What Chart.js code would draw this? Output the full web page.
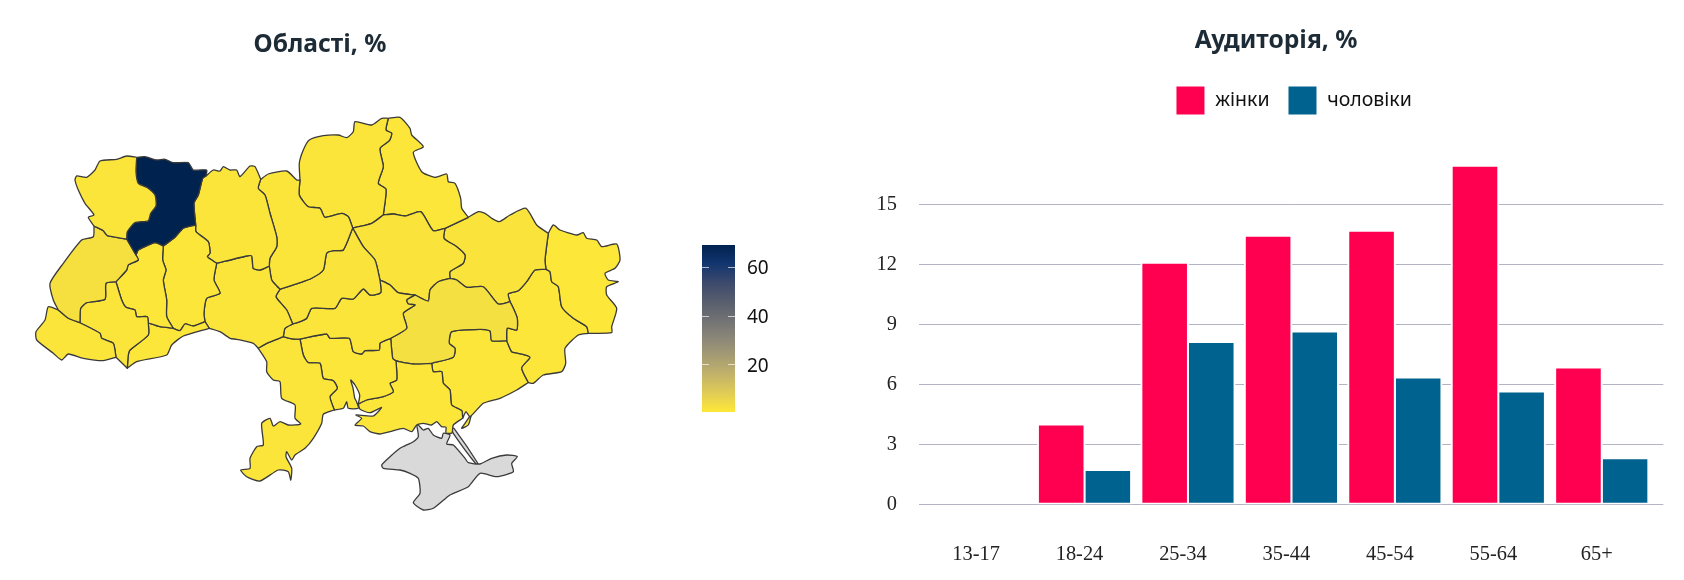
<!DOCTYPE html>
<html lang="uk">
<head>
<meta charset="utf-8">
<title>Області та аудиторія</title>
<script src="https://cdn.jsdelivr.net/npm/chart.js@4/dist/chart.umd.min.js"></script>
<style>
  body { margin: 0; background: #fff; }
  canvas { position: absolute; }
</style>
</head>
<body>
<canvas id="mapChart" width="640" height="580" style="left:0;top:0"></canvas>
<canvas id="scaleChart" width="90" height="180" style="left:702px;top:240px"></canvas>
<canvas id="barChart" width="816" height="580" style="left:868px;top:0"></canvas>
<script>
// Стовпчики
const ageGroups = ['13-17', '18-24', '25-34', '35-44', '45-54', '55-64', '65+'];
const women = [0, 4.0, 12.1, 13.45, 13.7, 16.95, 6.85];
const men = [0, 1.72, 8.12, 8.65, 6.35, 5.65, 2.3];
const valueTicks = [0, 3, 6, 9, 12, 15];

// Мапа: значення областей
const regionNames = ['Волинська', 'Рівненська', 'Львівська', 'Закарпатська', 'Івано-Франківська', 'Тернопільська', 'Чернівецька',
  'Хмельницька', 'Житомирська', 'Вінницька', 'Київська', 'Черкаська', 'Кіровоградська', 'Одеська', 'Миколаївська', 'Херсонська',
  'Дніпропетровська', 'Полтавська', 'Чернігівська', 'Сумська', 'Харківська', 'Луганська', 'Донецька', 'Запорізька',
  'м. Київ', 'АР Крим', 'Арабатська стрілка', 'Бердянська коса'];
const regionValues = [1.2, 69.3, 2.6, 1.2, 1.2, 1, 1, 1, 1.2, 1.3, 1.4, 1.5, 1.2, 1.2, 1, 1, 2.8, 1.5, 1.3, 1, 1.6, 0.7, 1, 1,
  1.4, null, null, 1];
const colorTicks = [20, 40, 60];
const colorMin = 0.5;
const colorMax = 69.3;
const cividis = ['#fee838', '#e1cc55', '#c3b369', '#a59c74', '#8a8678', '#707173', '#575d6d', '#3b496c', '#123570', '#00224e'];

// Контури: спільні ділянки кордонів, обведені з картинки
const arcs = {
  volN: [[136.7,157.3],[126.7,156],[116.7,159.3],[100,161],[95,170],[86.7,177.3],[76.7,176],[75,180],[78.3,190],[85,203.3],[94,215],[88.3,217.3],[94,226]],
  volLv: [[94,226],[103.3,230.7],[107.3,235.7],[126.7,239]],
  volRv: [[126.7,239],[127.3,231.7],[135,222.7],[148.3,220.7],[150.7,213.3],[156,206],[155,195],[146.7,187.3],[138.3,183.3],[136,171.7],[136.7,157.3]],
  rvN: [[136.7,157.3],[145,156.7],[156.7,160],[165,159.3],[173.3,162.7],[188.3,162.7],[193.3,170],[206.7,170],[206,176]],
  rvZh: [[206,176],[202.7,178.3],[198.3,195],[194,203.3],[195.7,225]],
  rvKh: [[195.7,225],[183.3,228.3],[175,237.3],[163.3,246]],
  rvTe: [[163.3,246],[155,242.7],[138.3,250],[136,255]],
  rvLv: [[136,255],[126.7,239]],
  lvW: [[94,226],[93.3,236.7],[81.7,240],[63.3,263.3],[50,283.3],[53.3,300],[58.3,310]],
  lvZk: [[58.3,310],[68.3,318.3],[80,322.7]],
  lvIf: [[80,322.7],[80.7,308.3],[86.7,302.7],[105,299.3],[106,283.3],[116,281.7]],
  lvTe: [[116,281.7],[126.7,270],[128.3,265],[138.3,260],[136,255]],
  zkOut: [[58.3,310],[48.3,306.7],[45,320],[36,331.7],[36.7,340],[53.3,353.3],[61.7,360],[68.3,354],[83.3,358.3],[103.3,360.7],[116,357.3]],
  zkIf: [[80,322.7],[100,333.3],[101.7,338.3],[113.3,343.3],[116,357.3]],
  ifS: [[116,357.3],[127.3,368.3]],
  ifCh: [[127.3,368.3],[128.3,355],[130,350],[148.3,335],[148.3,323]],
  ifTe: [[116,281.7],[121.7,300],[126,307.3],[135,310],[136.7,316.7],[147.3,316.7],[148.3,323]],
  teCh: [[148.3,323],[160,326.7],[173.3,328.3]],
  teKh: [[163.3,246],[162.7,260],[166,270],[163.3,280],[166.7,300],[166.7,316.7],[173.3,328.3]],
  chKh: [[173.3,328.3],[180,330.7],[185,324],[193.3,326],[205,321.7]],
  chVn: [[205,321.7],[209.3,328.3]],
  chS: [[209.3,328.3],[183.3,336],[171.7,345],[166.7,355],[136.7,361.7],[127.3,368.3]],
  khZh: [[195.7,225],[196,231.7],[208.3,241.7],[210,253.3],[207.3,256.7],[216.7,263.3]],
  khVn: [[216.7,263.3],[214,280],[220,293.3],[206.7,298.3],[204,313.3],[205,321.7]],
  zhN: [[206,176],[213.3,170],[220,171],[223.3,166.7],[230,170],[236.7,170],[240,176.7],[250,166],[255,166.7],[260.7,179.3]],
  zhKy: [[260.7,179.3],[258.3,188.3],[265,195],[270,213.3],[276.7,236.7],[276.7,246.7],[270,258.3],[269.3,266]],
  zhVn: [[269.3,266],[260,270],[253.3,268.3],[251.7,256],[246.7,256],[216.7,263.3]],
  kyN: [[260.7,179.3],[268.3,174],[286.7,171],[296.7,180],[300,180]],
  kyCn: [[300,180],[299.3,195],[308.3,206.7],[320,208.3],[325,217.3],[341.7,213.3],[348.3,216.7],[352.7,228]],
  kyCk: [[352.7,228],[343.3,250],[333.3,250.7],[326.7,253.3],[323.3,270],[311.7,278.3],[300,282.7],[280,289.3]],
  kyVn: [[280,289.3],[276.7,286],[271.7,280],[269.3,266]],
  vnCk: [[280,289.3],[276,296.7],[286.7,310],[292.7,324]],
  vnKr: [[292.7,324],[285,328.3],[283.3,336.7]],
  vnOd: [[283.3,336.7],[266.7,343.3],[258.3,348.3]],
  vnS: [[258.3,348.3],[253.3,343.3],[236.7,339.3],[230,338.3],[220,331.7],[209.3,328.3]],
  ckPl: [[352.7,228],[363.3,246.7],[375,260],[380,280]],
  ckKr: [[380,280],[380.7,292.7],[370,295],[363.3,289],[353.3,299],[341.7,298.3],[335,308.3],[311.7,308.3],[306.7,318.3],[300,321.7],[292.7,324]],
  krPl: [[380,280],[390,285],[398.3,292.7],[415,295]],
  krDn: [[415,295],[406.7,300],[408.3,304],[415,305],[403.3,313.3],[406.7,328.3],[390.7,338.3]],
  krMy: [[390.7,338.3],[380,343.3],[379.3,350],[365,350.7],[361.7,354],[353.3,351.7],[349.3,338.3],[330,338.3],[326.7,334],[300,339]],
  krOd: [[300,339],[293.3,339],[283.3,336.7]],
  odMy: [[300,339],[303.3,355],[308.3,362.7],[320,363.3],[323.3,378.3],[333.3,380.7],[337.3,388.3],[330,396.7],[334.3,410]],
  odOut: [[334.3,410],[323.3,414.3],[321.7,423.3],[313.3,438.3],[305,448.3],[295,455],[291.7,460],[286.7,451.7],[286,456.7],[291.7,468.3],[290.7,480],[288.3,471.7],[278.3,470],[260,481],[246.7,476.7],[240.7,470],[250,468.3],[250,458.3],[256.7,446.7],[263.3,445],[261.7,423.3],[270,418.3],[273.3,426],[280,421.7],[288.3,425],[300.7,424],[295,418.3],[295,405],[281.7,398.3],[280,381.7],[273.3,380],[266.7,371.7],[266.7,361.7],[258.3,348.3]],
  myDn: [[390.7,338.3],[392.7,358.3],[396,361]],
  myKh: [[396,361],[396.7,380],[390,383.3],[393.3,391.7],[383.3,396.7],[366.7,400],[358.3,404]],
  myOut: [[358.3,404],[359.7,395],[355,385],[350.7,380],[353,388],[354.7,398],[356.7,402],[358.3,408.3],[348.3,408.3],[346.7,401.7],[343.3,408.3],[334.3,410]],
  dnKh: [[396,361],[413.3,364],[431.7,363.3]],
  dnZp: [[431.7,363.3],[453.3,357.3],[455,348.3],[449.3,343.3],[451.7,331.7],[480,329.3],[490,331],[491.7,340.7],[506.7,340.7]],
  dnDo: [[506.7,340.7],[507.3,328.3],[516.7,330],[517.3,318.3],[513.3,308.3],[510,301.7]],
  dnKa: [[510,301.7],[498.3,304],[483.3,286.7],[466.7,287.3],[456.7,280],[450,278.3]],
  dnPl: [[450,278.3],[438.3,281.7],[430,290],[428.3,301],[415,295]],
  khOut: [[462.7,418.3],[453.3,425],[452,433],[446,433],[446,427],[441.7,426.7],[436.7,421.7],[431.7,425],[423.3,423.3],[416.7,425],[411.7,431.7],[403.3,428.3],[390,431.7],[380,434],[370,431.7],[363.3,426],[355,425],[361.7,418.3],[356,415],[373.3,416],[381.7,407.3],[370,412.7],[360,409.3],[358.3,404]],
  khZp: [[431.7,363.3],[433.3,371.7],[441.7,371.7],[443.3,383.3],[450,390],[451.7,405],[461.7,410.7],[462.7,418.3]],
  zpDo: [[506.7,340.7],[511.7,351.7],[518.3,353.3],[530,357.3],[521.7,368],[528.3,382.5]],
  zpOut: [[528.3,382.5],[516.7,390],[500,398.3],[483.3,403.3],[470,416.7],[466,411.7],[462.7,418.3]],
  cnOut: [[300,180],[299.3,163.3],[303.3,150],[309.3,140],[323.3,135.7],[338.3,135],[346.7,137.7],[353.3,131.7],[355,121.7],[371.7,125],[381.7,118.3],[388.3,118.3]],
  cnSu: [[388.3,118.3],[386,130],[391.7,133.3],[389.3,140.7],[380,148.3],[383.3,166.7],[378.3,183.3],[386,189.3],[383.3,215]],
  cnPl: [[352.7,228],[371.7,223.3],[383.3,215]],
  plSu: [[383.3,215],[393.3,214],[405,216],[420.7,211.7],[433.3,230.7],[445,228.3]],
  plKa: [[445,228.3],[444,238.3],[456.7,246.7],[465,255],[463.3,263.3],[450,271.7],[450,278.3]],
  suOut: [[388.3,118.3],[400,117.3],[410,128.3],[411.7,135],[423.3,146.7],[413.3,152.3],[421.7,171.7],[435,177.3],[446.7,174],[448.3,181.7],[455,183.3],[460.7,198.3],[461.7,208.3],[468.3,217.3]],
  suKa: [[468.3,217.3],[445,228.3]],
  kaOut: [[468.3,217.3],[478.3,211.7],[485,213.3],[491.7,218.3],[499.3,221.7],[510,215],[526,208.3],[536.7,225],[548.3,233.3]],
  kaLu: [[548.3,233.3],[545,260],[546,269.3]],
  kaDo: [[546,269.3],[535,270],[526.7,281.7],[518.3,290.7],[508.3,294],[510,301.7]],
  luOut: [[548.3,233.3],[553.3,225],[560,230],[576.7,235],[583.3,232.7],[586.7,238.3],[596.7,240],[601.7,246.7],[616.7,244],[620,260],[615,268.3],[605,273.3],[608.3,280],[618.3,281.7],[606.7,286.7],[606.7,295],[616.7,308.3],[611.7,326.7],[611.7,332.7],[588.3,333.3]],
  luDo: [[588.3,333.3],[586.7,326.7],[573.3,318.3],[561.7,306.7],[558.3,286.7],[551.7,281.7],[550,271.7],[546,269.3]],
  doOut: [[588.3,333.3],[578.3,335],[565,348.3],[565.7,363.3],[561.7,371.7],[543.3,375],[533.3,383.3],[528.3,382.5]],
  kyivCity: [[293.3,221.7],[298.3,218.3],[303.3,220.7],[311.7,216.7],[310,225],[306.7,228.3],[305,235],[298.3,228.3],[291.7,224],[293.3,221.7]],
  crimea: [[416.7,425],[418.3,436.7],[413.3,441.7],[400,448.3],[390,456.7],[381.7,465],[383.3,468.3],[400,470],[410,473.3],[418.3,478.3],[420,493.3],[413.3,502.7],[423.3,510],[433.3,508.3],[450,495],[468.3,486.7],[480,473.3],[496.7,476.7],[513.3,471.7],[511.7,463.3],[517.3,456.7],[506.7,455],[491.7,458.3],[480,464],[468.3,462.7],[465,458.3],[453.3,445],[446.7,444],[450,435],[443.3,433.3],[441.7,438.3],[433.3,435],[428.3,428.3],[423.3,430],[418.3,425],[416.7,425]],
  arabat: [[451.7,428.3],[454,428.3],[478.3,464],[476,464],[453.3,433.3],[451.7,428.3]],
  berdiansk: [[471.7,413.3],[468.3,425],[461.7,428.3],[465,423.3],[471.7,413.3]]
};

// Які ділянки складають кожну область (мінус: у зворотному напрямку)
const regionRings = [
  ['volN', 'volLv', 'volRv'],
  ['rvN', 'rvZh', 'rvKh', 'rvTe', 'rvLv', 'volRv'],
  ['lvW', 'lvZk', 'lvIf', 'lvTe', 'rvLv', '-volLv'],
  ['zkOut', '-zkIf', '-lvZk'],
  ['zkIf', 'ifS', 'ifCh', '-ifTe', '-lvIf'],
  ['ifTe', 'teCh', '-teKh', 'rvTe', '-lvTe'],
  ['teCh', 'chKh', 'chVn', 'chS', 'ifCh'],
  ['khZh', 'khVn', '-chKh', '-teKh', '-rvKh'],
  ['zhN', 'zhKy', 'zhVn', '-khZh', '-rvZh'],
  ['-zhVn', '-kyVn', 'vnCk', 'vnKr', 'vnOd', 'vnS', '-chVn', '-khVn'],
  ['kyN', 'kyCn', 'kyCk', 'kyVn', '-zhKy'],
  ['ckPl', 'ckKr', '-vnCk', '-kyCk'],
  ['-ckKr', 'krPl', 'krDn', 'krMy', 'krOd', '-vnKr'],
  ['-krOd', 'odMy', 'odOut', '-vnOd'],
  ['-krMy', 'myDn', 'myKh', 'myOut', '-odMy'],
  ['dnKh', 'khZp', 'khOut', '-myKh'],
  ['-dnPl', '-dnKa', '-dnDo', '-dnZp', '-dnKh', '-myDn', '-krDn'],
  ['cnPl', 'plSu', 'plKa', 'dnPl', '-krPl', '-ckPl'],
  ['cnOut', 'cnSu', '-cnPl', '-kyCn'],
  ['suOut', 'suKa', '-plSu', '-cnSu'],
  ['kaOut', 'kaLu', 'kaDo', 'dnKa', '-plKa', '-suKa'],
  ['luOut', 'luDo', '-kaLu'],
  ['-luDo', 'doOut', '-zpDo', 'dnDo', '-kaDo'],
  ['dnZp', 'zpDo', 'zpOut', '-khZp'],
  ['kyivCity'],
  ['crimea'],
  ['arabat'],
  ['berdiansk']
];

function hexToRgb(hex) {
  return [1, 3, 5].map(i => parseInt(hex.slice(i, i + 2), 16));
}

// Колір області за значенням, по тій самій шкалі, що й на колірній смузі
function valueColor(value) {
  if (value === null) return '#d9d9d9';
  const t = Math.min(1, Math.max(0, (value - colorMin) / (colorMax - colorMin))) * (cividis.length - 1);
  const i = Math.min(cividis.length - 2, Math.floor(t));
  const a = hexToRgb(cividis[i]);
  const b = hexToRgb(cividis[i + 1]);
  const c = a.map((v, k) => Math.round(v + (b[k] - v) * (t - i)));
  return `rgb(${c[0]},${c[1]},${c[2]})`;
}

function ringPoints(ring) {
  const points = [];
  ring.forEach(name => {
    const reversed = name[0] === '-';
    const arc = arcs[reversed ? name.slice(1) : name];
    (reversed ? [...arc].reverse() : arc).forEach(p => points.push({ x: p[0], y: p[1] }));
  });
  return points;
}

const titleColor = '#1d2b36';
const titleFont = { family: '"Noto Sans"', size: 24.6, weight: 'bold' };

new Chart(document.getElementById('mapChart'), {
  type: 'scatter',
  data: {
    datasets: regionNames.map((name, i) => ({
      label: name,
      data: ringPoints(regionRings[i]),
      showLine: true,
      fill: 'shape',
      backgroundColor: valueColor(regionValues[i]),
      borderColor: '#3a3a3a',
      borderWidth: 1.3,
      borderJoinStyle: 'round',
      pointRadius: 0,
      tension: 0.2
    }))
  },
  options: {
    responsive: false,
    animation: false,
    layout: { padding: 0 },
    plugins: {
      legend: { display: false },
      tooltip: { enabled: false },
      title: { display: true, text: 'Області, %', color: titleColor, font: titleFont, padding: { top: 30, bottom: 10.48 } }
    },
    scales: {
      x: { type: 'linear', display: false, min: 0, max: 640 },
      y: { type: 'linear', display: false, reverse: true, min: 70, max: 580 }
    }
  }
});

new Chart(document.getElementById('scaleChart'), {
  type: 'bar',
  data: {
    labels: ['%'],
    datasets: [{
      data: [[colorMin, colorMax]],
      backgroundColor: ctx => {
        const area = ctx.chart.chartArea;
        if (!area) return cividis[0];
        const g = ctx.chart.ctx.createLinearGradient(0, area.bottom, 0, area.top);
        cividis.forEach((c, i) => g.addColorStop(i / (cividis.length - 1), c));
        return g;
      },
      borderSkipped: false,
      barPercentage: 1,
      categoryPercentage: 1
    }]
  },
  options: {
    responsive: false,
    animation: false,
    layout: { padding: { top: 5, bottom: 8 } },
    plugins: { legend: { display: false }, tooltip: { enabled: false } },
    scales: {
      x: { display: false },
      y: {
        position: 'right',
        min: colorMin,
        max: colorMax,
        afterBuildTicks: scale => { scale.ticks = colorTicks.map(value => ({ value })); },
        afterFit: scale => {
          scale.width = 57;
          scale.paddingTop = 0;
          scale.paddingBottom = 0;
        },
        grid: { z: 1, color: 'rgba(255,255,255,0.65)', drawTicks: false },
        border: { display: false, dash: [7, 19] },
        ticks: { color: '#111', font: { family: '"Noto Sans"', size: 19 }, padding: 12, labelOffset: 1.5 }
      }
    }
  }
});

// Заголовок і легенда в оригіналі не по центру полотна
const headerShift = {
  id: 'headerShift',
  afterLayout(chart) {
    chart.titleBlock.left += 10.35;
    chart.titleBlock.right += 10.35;
    chart.legend.left += 28;
    chart.legend.right += 28;
  }
};

new Chart(document.getElementById('barChart'), {
  type: 'bar',
  data: {
    datasets: [
      { label: 'жінки', data: ageGroups.map((_, i) => ({ x: i, y: women[i] })), backgroundColor: '#ff0050' },
      { label: 'чоловіки', data: ageGroups.map((_, i) => ({ x: i, y: men[i] })), backgroundColor: '#00628e' }
    ]
  },
  plugins: [headerShift],
  options: {
    responsive: false,
    animation: false,
    layout: { padding: { right: 20.7 } },
    datasets: {
      bar: {
        barThickness: 46.6,
        borderColor: '#fff',
        borderWidth: 2,
        borderSkipped: false,
        inflateAmount: ctx => (ctx.raw && ctx.raw.y ? 1 : 0)
      }
    },
    plugins: {
      tooltip: { enabled: false },
      title: { display: true, text: 'Аудиторія, %', color: titleColor, font: titleFont, padding: { top: 26.5, bottom: 11.4 } },
      legend: {
        labels: { boxWidth: 30, boxHeight: 30, padding: 18, color: '#111', font: { family: '"Noto Sans"', size: 19.5 } }
      }
    },
    scales: {
      x: {
        type: 'linear',
        offset: false,
        min: -0.6,
        max: 6.595,
        afterBuildTicks: scale => { scale.ticks = ageGroups.map((_, i) => ({ value: i })); },
        afterFit: scale => { scale.height = 75.7; },
        grid: { display: false },
        border: { display: false },
        ticks: {
          callback: v => ageGroups[v],
          autoSkip: false,
          maxRotation: 0,
          labelOffset: -5,
          padding: 30,
          color: '#222',
          font: { family: '"Liberation Serif"', size: 20.4 }
        }
      },
      y: {
        min: 0,
        max: 18.97,
        afterBuildTicks: scale => { scale.ticks = valueTicks.map(value => ({ value })); },
        afterFit: scale => { scale.width = 51; },
        grid: { color: '#b3b3c4', drawTicks: false },
        border: { display: false },
        ticks: { padding: 22, color: '#222', font: { family: '"Liberation Serif"', size: 20.4 } }
      }
    }
  }
});
</script>
</body>
</html>
